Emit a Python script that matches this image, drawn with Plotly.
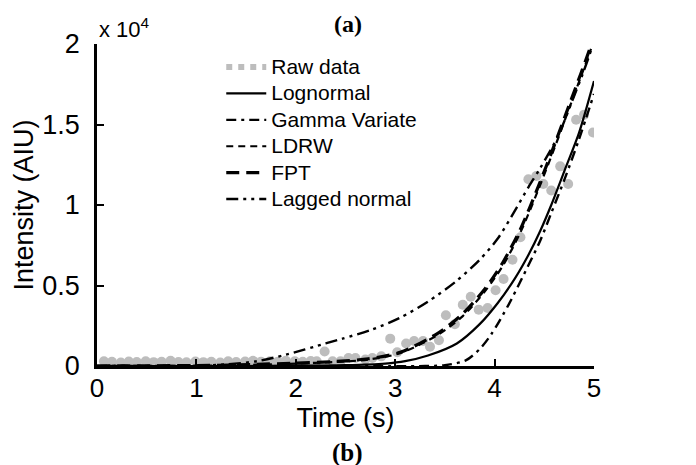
import plotly.graph_objects as go

# ---------------- data (intensity in AIU) ----------------
raw_t = [0.07, 0.15, 0.24, 0.32, 0.40, 0.49, 0.57, 0.65, 0.74, 0.82, 0.90, 0.99,
         1.07, 1.15, 1.24, 1.32, 1.40, 1.49, 1.57, 1.65, 1.74, 1.82, 1.90, 1.99,
         2.07, 2.15, 2.21, 2.29, 2.37, 2.45, 2.53, 2.60, 2.70, 2.77, 2.86, 2.95,
         3.02, 3.11, 3.19, 3.28, 3.35, 3.44, 3.51, 3.60, 3.68, 3.76, 3.84, 3.93,
         4.01, 4.09, 4.18, 4.26, 4.34, 4.42, 4.49, 4.57, 4.66, 4.74, 4.82, 4.90, 4.99]
raw_y = [300, 260, 220, 280, 250, 300, 240, 260, 330, 250, 230, 280,
         240, 260, 220, 300, 250, 280, 320, 260, 300, 270, 320, 300,
         260, 310, 300, 900, 300, 300, 500, 500, 400, 500, 600, 1700,
         850, 1400, 1550, 1550, 1200, 1600, 3150, 2600, 3800, 4300, 3500, 3600,
         4700, 5400, 6600, 8000, 11600, 11800, 11300, 10900, 12400, 11300, 15300, 15600, 14500]

logn_t = [0.0, 1.5, 2.0, 2.5, 2.9, 3.1, 3.33, 3.62, 3.85, 4.03, 4.2, 4.34, 4.46, 4.57, 4.72, 4.85, 5.0]
logn_y = [0, 0, 20, 50, 150, 300, 650, 1400, 2600, 3900, 5400, 6900, 8400, 10000, 12400, 14500, 17700]

gamma_t = [0.0, 3.3, 3.5, 3.71, 3.85, 3.97, 4.14, 4.28, 4.46, 4.57, 4.71, 4.85, 5.0]
gamma_y = [0, 0, 50, 350, 1050, 2000, 3800, 5500, 7800, 9500, 11700, 14100, 16900]

ldrw_t = [0.0, 1.2, 1.6, 2.0, 2.4, 2.73, 3.05, 3.42, 3.68, 3.91, 4.08, 4.26, 4.43, 4.6, 4.75, 4.87, 4.97]
ldrw_y = [0, 30, 80, 150, 250, 400, 800, 1900, 3100, 4700, 6200, 8300, 10800, 13500, 16000, 18000, 19700]

fpt_t = [0.0, 1.2, 1.6, 2.0, 2.4, 2.73, 3.05, 3.42, 3.68, 3.91, 4.08, 4.26, 4.43, 4.6, 4.75, 4.87, 4.97]
fpt_y = [0, 40, 100, 180, 280, 450, 850, 2000, 3250, 4850, 6400, 8500, 11000, 13700, 16200, 18200, 19900]

lagn_t = [0.0, 1.0, 1.3, 1.61, 1.9, 2.3, 2.47, 2.76, 3.05, 3.33, 3.62, 3.85, 4.03, 4.2, 4.34, 4.46, 4.64, 4.77, 4.89, 4.97]
lagn_y = [0, 20, 100, 300, 700, 1400, 1700, 2250, 3000, 4000, 5300, 6600, 7900, 9600, 11100, 12300, 14300, 16300, 18200, 19600]

x_ticks = [0, 1, 2, 3, 4, 5]
y_ticks = [0, 5000, 10000, 15000, 20000]
y_ticktext = ["0", "0.5", "1", "1.5", "2"]

FONT = "Liberation Sans, Arial, sans-serif"
SERIF = "Liberation Serif, Times New Roman, serif"
GREY = "#bdbdbd"


def leg(name):
    return '<span style="font-size:21px">' + name + '</span>'


fig = go.Figure()
# raw data points (legend drawn by a dotted legend-only entry below)
fig.add_trace(go.Scatter(x=raw_t, y=raw_y, mode="markers", name="Raw data",
                         showlegend=False, marker=dict(color=GREY, size=10)))
fig.add_trace(go.Scatter(x=[None], y=[None], mode="lines", name=leg("Raw data"),
                         line=dict(color=GREY, width=6, dash="6px,6px")))
fig.add_trace(go.Scatter(x=logn_t, y=logn_y, mode="lines", name=leg("Lognormal"),
                         line=dict(color="black", width=2.2, shape="spline", smoothing=0.8)))
fig.add_trace(go.Scatter(x=gamma_t, y=gamma_y, mode="lines", name=leg("Gamma Variate"),
                         line=dict(color="black", width=2.4, shape="spline", smoothing=0.8,
                                   dash="10px,5px,3px,5px")))
fig.add_trace(go.Scatter(x=ldrw_t, y=ldrw_y, mode="lines", name=leg("LDRW"),
                         line=dict(color="black", width=2.2, shape="spline", smoothing=0.8,
                                   dash="7px,5px")))
fig.add_trace(go.Scatter(x=fpt_t, y=fpt_y, mode="lines", name=leg("FPT"),
                         line=dict(color="black", width=3.2, shape="spline", smoothing=0.8,
                                   dash="13px,7px")))
fig.add_trace(go.Scatter(x=lagn_t, y=lagn_y, mode="lines", name=leg("Lagged normal"),
                         line=dict(color="black", width=2.4, shape="spline", smoothing=0.8,
                                   dash="12px,5px,3px,5px,3px,5px")))

fig.update_layout(
    width=696, height=465,
    margin=dict(l=89, r=110, t=36, b=107),
    paper_bgcolor="white", plot_bgcolor="white",
    font=dict(family=FONT, color="black", size=22),
    showlegend=True,
    legend=dict(x=0.25, y=0.985, xanchor="left", yanchor="top",
                bgcolor="rgba(0,0,0,0)", font=dict(size=18, family=FONT),
                tracegroupgap=0, itemwidth=40),
    xaxis=dict(range=[0, 5], tickvals=x_ticks, ticks="inside", ticklen=7, tickwidth=2,
               tickcolor="black", showline=True, linewidth=2.5, linecolor="black",
               showgrid=False, zeroline=False, tickfont=dict(size=26, family=FONT),
               ticklabelstandoff=-3,
               title=dict(text="Time (s)", font=dict(size=27, family=FONT), standoff=5)),
    yaxis=dict(range=[0, 20000], tickvals=y_ticks, ticktext=y_ticktext, ticks="inside",
               ticklen=7, tickwidth=2, tickcolor="black", showline=True, linewidth=2.5,
               linecolor="black", showgrid=False, zeroline=False,
               tickfont=dict(size=27, family=FONT), ticklabelstandoff=9,
               title=dict(text="Intensity (AIU)", font=dict(size=27, family=FONT), standoff=1)),
    annotations=[
        dict(text="x 10<sup>4</sup>", xref="paper", yref="paper", x=0.0, y=1.0,
             xanchor="left", yanchor="bottom", showarrow=False,
             font=dict(size=22, family=FONT)),
        dict(text="<b>(a)</b>", xref="paper", yref="paper", x=0.505, y=1.062,
             xanchor="center", yanchor="middle", showarrow=False,
             font=dict(size=24, family=SERIF)),
        dict(text="<b>(b)</b>", xref="paper", yref="paper", x=0.505, y=-0.222,
             xanchor="center", yanchor="top", showarrow=False,
             font=dict(size=25, family=SERIF)),
    ],
)

fig.write_html("out.html")
